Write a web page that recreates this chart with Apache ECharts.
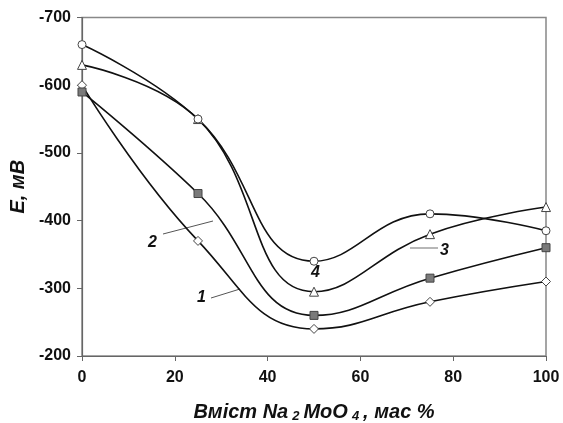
<!DOCTYPE html>
<html>
<head>
<meta charset="utf-8">
<script src="https://cdn.jsdelivr.net/npm/echarts@6/dist/echarts.min.js"></script>
<style>
  html, body { margin: 0; padding: 0; background: #fff; }
  #chart { width: 563px; height: 423px; }
</style>
</head>
<body>
<div id="chart"></div>
<script>
// склад, мас %
const content = [0, 25, 50, 75, 100];
// потенціали, мВ
const curve1 = [-600, -370, -240, -280, -310];
const curve2 = [-590, -440, -260, -315, -360];
const curve3 = [-630, -550, -295, -380, -420];
const curve4 = [-660, -550, -340, -410, -385];

const pairs = (ys) => content.map((x, i) => [x, ys[i]]);

const font = "Liberation Sans, Arial, sans-serif";
const lineStyle = { color: "#111", width: 1.6 };

const makeSeries = (name, data, symbol, fill, size) => ({
  name: name,
  type: "line",
  smooth: 0.45,
  smoothConstraint: false,
  data: pairs(data),
  symbol: symbol,
  symbolSize: size,
  showAllSymbol: true,
  lineStyle: lineStyle,
  itemStyle: { color: fill, borderColor: "#444", borderWidth: 1 },
  z: 3,
});

const chart = echarts.init(document.getElementById("chart"));
chart.setOption({
  animation: false,
  grid: {
    left: 82,
    right: 17,
    top: 17.5,
    bottom: 67,
    outerBoundsMode: "none",
    containLabel: false,
    show: true,
    borderColor: "#888",
    borderWidth: 1.5,
  },
  xAxis: {
    type: "value",
    min: 0,
    max: 100,
    interval: 20,
    splitLine: { show: false },
    axisLine: { lineStyle: { color: "#666", width: 1.2 } },
    axisTick: { length: 5, lineStyle: { color: "#666" } },
    axisLabel: { color: "#111", fontSize: 16, fontWeight: "bold", fontFamily: font, margin: 14 },
    name: "{t|Вміст Na}{s|2}{t|MoO}{s|4}{t|, мас %}",
    nameLocation: "middle",
    nameGap: 45,
    nameTextStyle: {
      rich: {
        t: { fontSize: 20, fontWeight: "bold", fontStyle: "italic", fontFamily: font, color: "#111" },
        s: { fontSize: 13, fontWeight: "bold", fontStyle: "italic", fontFamily: font, color: "#111", padding: [9, 4, 0, 4] },
      },
    },
  },
  yAxis: {
    type: "value",
    inverse: true,
    min: -700,
    max: -200,
    interval: 100,
    splitLine: { show: false },
    axisLine: { show: true, lineStyle: { color: "#666", width: 1.2 } },
    axisTick: { show: true, length: 5, lineStyle: { color: "#666" } },
    axisLabel: { color: "#111", fontSize: 16, fontWeight: "bold", fontFamily: font, margin: 11 },
    name: "E, мВ",
    nameLocation: "middle",
    nameGap: 50,
    nameRotate: 90,
    nameTextStyle: { fontSize: 20, fontWeight: "bold", fontStyle: "italic", fontFamily: font, color: "#111" },
  },
  series: [
    makeSeries("1", curve1, "diamond", "#fff", 9),
    makeSeries("2", curve2, "rect", "#7a7a7a", 8),
    makeSeries("3", curve3, "triangle", "#fff", 9),
    makeSeries("4", curve4, "circle", "#fff", 8),
  ],
  graphic: [
    { type: "text", left: 197, top: 290, style: { text: "1", font: "italic bold 16px " + font, fill: "#111" } },
    { type: "line", shape: { x1: 211, y1: 298, x2: 240, y2: 289 }, style: { stroke: "#555", lineWidth: 1 } },
    { type: "text", left: 148, top: 235, style: { text: "2", font: "italic bold 16px " + font, fill: "#111" } },
    { type: "line", shape: { x1: 163, y1: 234, x2: 213, y2: 221 }, style: { stroke: "#555", lineWidth: 1 } },
    { type: "text", left: 440, top: 243, style: { text: "3", font: "italic bold 16px " + font, fill: "#111" } },
    { type: "line", shape: { x1: 410, y1: 248, x2: 438, y2: 248 }, style: { stroke: "#888", lineWidth: 1.2 } },
    { type: "text", left: 311, top: 265, style: { text: "4", font: "italic bold 16px " + font, fill: "#111" } },
  ],
});
</script>
</body>
</html>
